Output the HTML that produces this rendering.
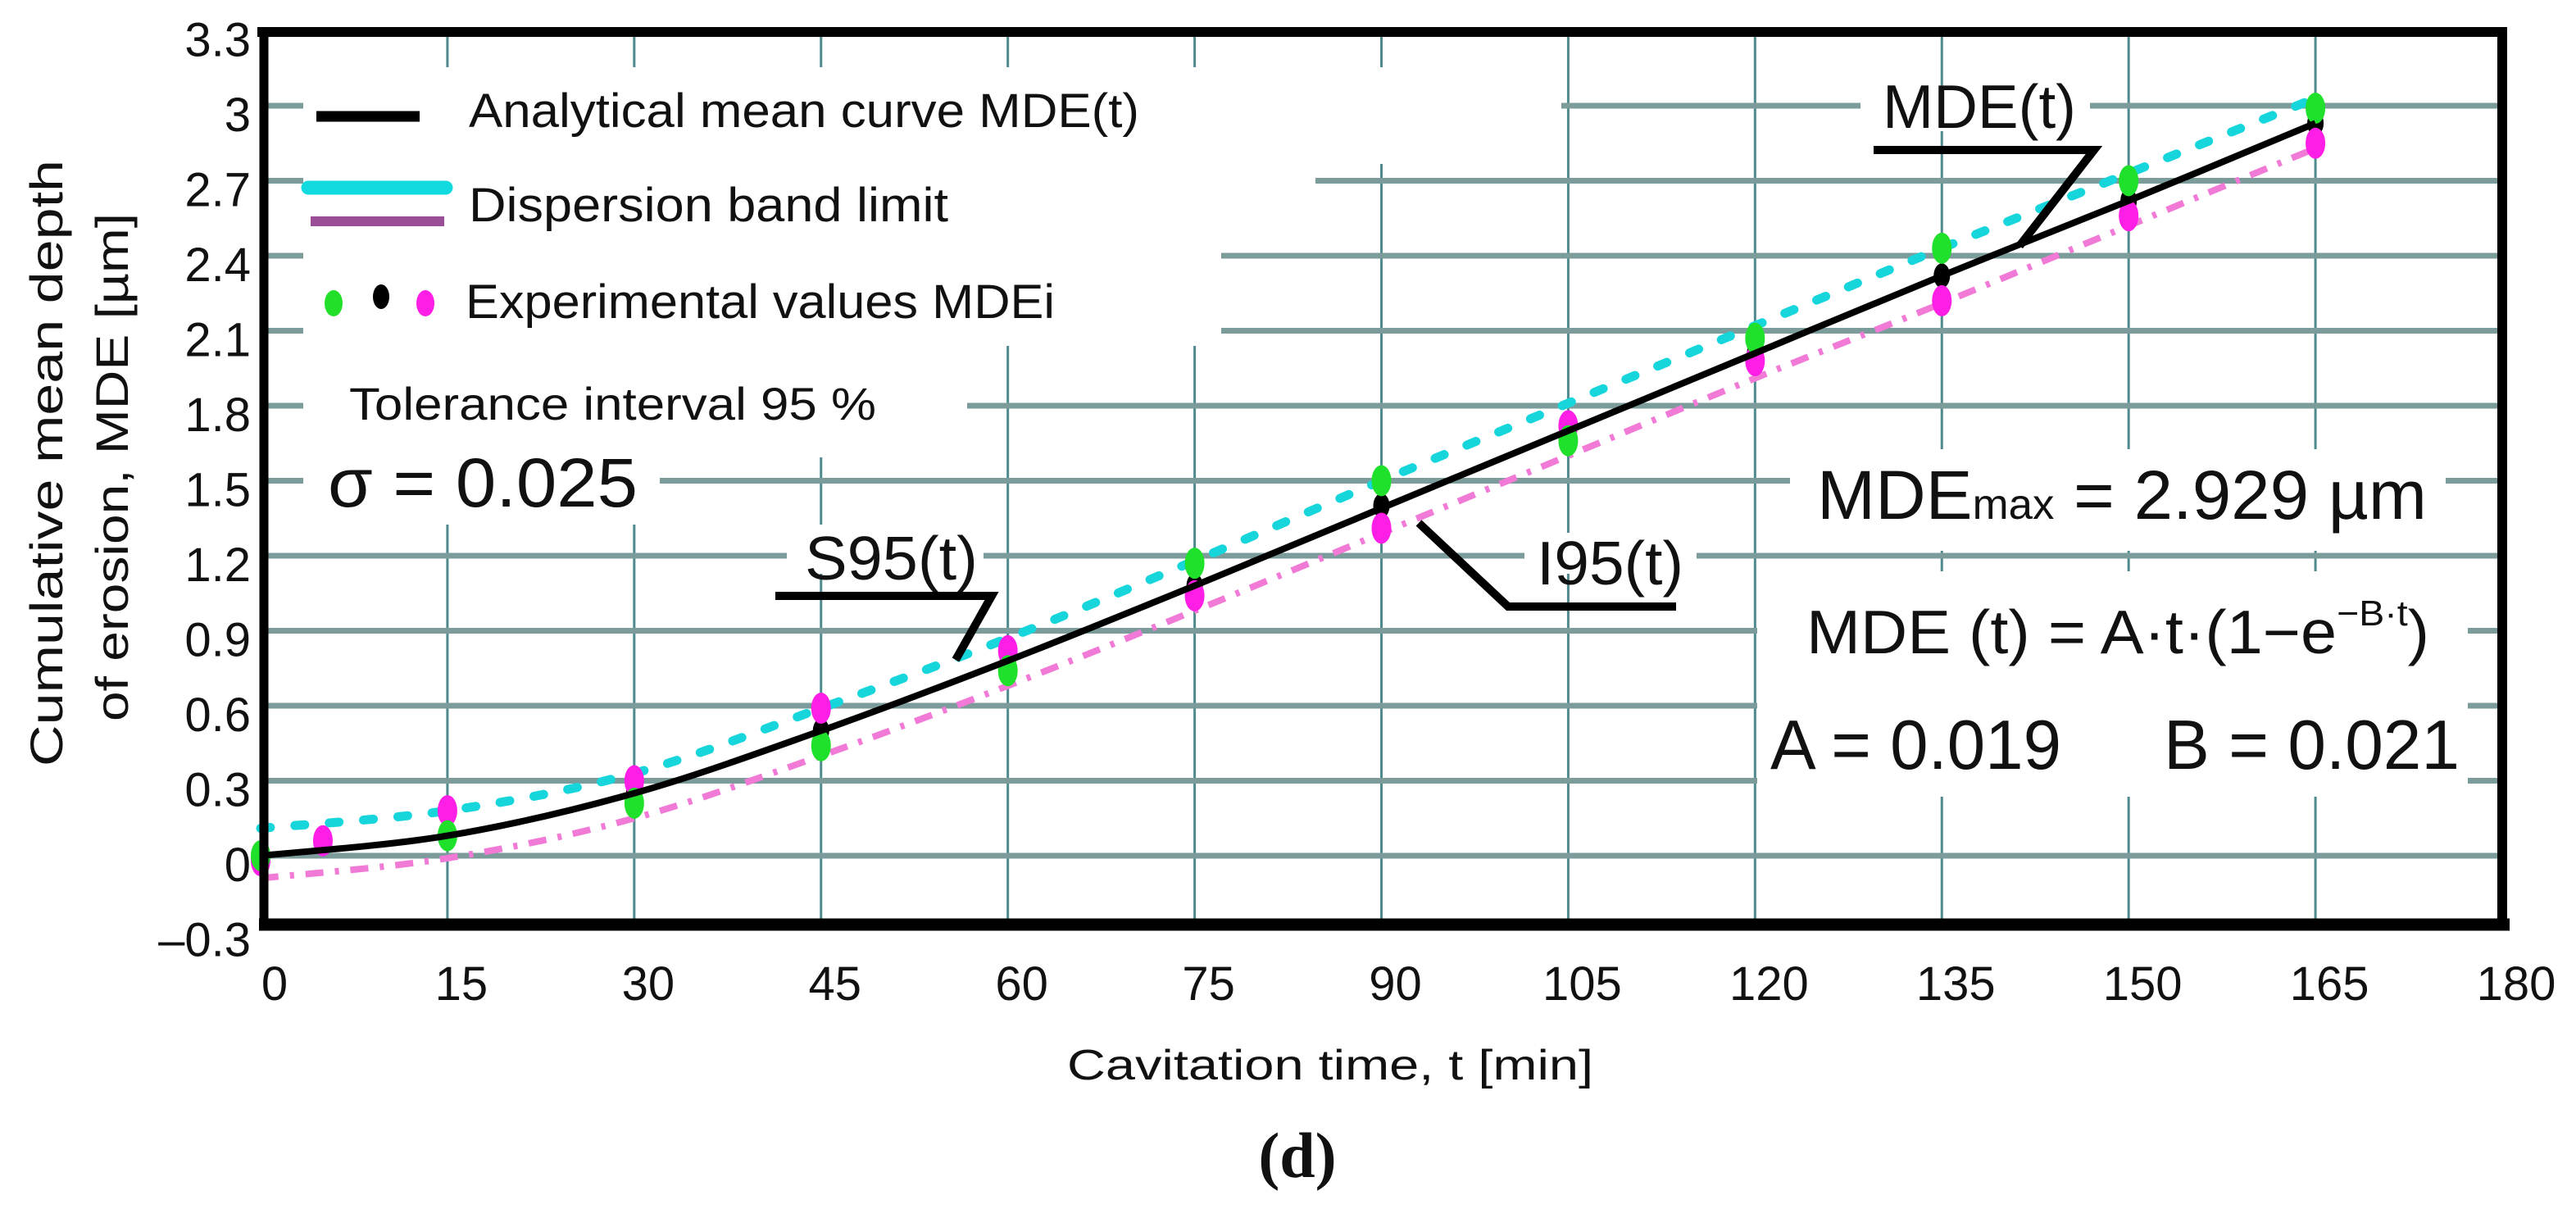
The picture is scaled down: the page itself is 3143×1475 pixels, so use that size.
<!DOCTYPE html>
<html><head><meta charset="utf-8"><style>
html,body{margin:0;padding:0;background:#fff;}
svg{display:block;}
text{font-family:"Liberation Sans",sans-serif;fill:#111;}
</style></head>
<body>
<svg id="chart" width="3143" height="1475" viewBox="0 0 3143 1475" xmlns="http://www.w3.org/2000/svg">
<rect x="0" y="0" width="3143" height="1475" fill="#fff"/>
<g id="grid"></g>
<g id="masks"></g>
<g id="series"></g>
<g id="frame"></g>
<g id="ticks"></g>

<g>
  <line x1="386" y1="142" x2="512" y2="142" stroke="#000" stroke-width="13"/>
  <text x="572" y="155" font-size="58" textLength="818" lengthAdjust="spacingAndGlyphs">Analytical mean curve MDE(t)</text>
  <line x1="376" y1="229" x2="544" y2="229" stroke="#12dbe0" stroke-width="17" stroke-linecap="round"/>
  <line x1="379" y1="270" x2="542" y2="270" stroke="#9a4e98" stroke-width="12"/>
  <text x="572" y="270" font-size="58" textLength="585" lengthAdjust="spacingAndGlyphs">Dispersion band limit</text>
  <ellipse cx="407" cy="370" rx="11" ry="16" fill="#22e02a"/>
  <ellipse cx="465" cy="362" rx="10" ry="15" fill="#000"/>
  <ellipse cx="519" cy="370" rx="11" ry="16" fill="#ff1ee6"/>
  <text x="568" y="388" font-size="58" textLength="719" lengthAdjust="spacingAndGlyphs">Experimental values MDEi</text>
  <text x="426" y="512" font-size="56" textLength="643" lengthAdjust="spacingAndGlyphs">Tolerance interval 95 %</text>
  <text x="400" y="618" font-size="84" textLength="378" lengthAdjust="spacingAndGlyphs">σ = 0.025</text>
</g>

<g>
  <text x="2297" y="156" font-size="75" textLength="236" lengthAdjust="spacingAndGlyphs">MDE(t)</text>
  <polyline points="2286,183 2555,183 2464,300" fill="none" stroke="#000" stroke-width="10"/>
  <text x="982" y="707" font-size="75" textLength="211" lengthAdjust="spacingAndGlyphs">S95(t)</text>
  <polyline points="946,727 1210,727 1166,805" fill="none" stroke="#000" stroke-width="10"/>
  <text x="1875" y="713" font-size="75" textLength="179" lengthAdjust="spacingAndGlyphs">I95(t)</text>
  <polyline points="1731,638 1840,740 2045,740" fill="none" stroke="#000" stroke-width="10"/>
  <text x="2217" y="633" font-size="84" textLength="744" lengthAdjust="spacingAndGlyphs">MDE<tspan font-size="52">max</tspan> = 2.929 µm</text>
  <text x="2204" y="797" font-size="75" textLength="760" lengthAdjust="spacingAndGlyphs">MDE (t) = A·t·(1−e<tspan font-size="44" dy="-34">−B·t</tspan><tspan dy="34">)</tspan></text>
  <text x="2160" y="938" font-size="85" textLength="355" lengthAdjust="spacingAndGlyphs">A = 0.019</text>
  <text x="2640" y="938" font-size="85" textLength="361" lengthAdjust="spacingAndGlyphs">B = 0.021</text>
</g>

<text x="1623" y="1317" font-size="52" text-anchor="middle" textLength="642" lengthAdjust="spacingAndGlyphs">Cavitation time, t [min]</text>
<text transform="translate(76,565) rotate(-90)" font-size="56" text-anchor="middle" textLength="740" lengthAdjust="spacingAndGlyphs">Cumulative mean depth</text>
<text transform="translate(156,570) rotate(-90)" font-size="56" text-anchor="middle" textLength="620" lengthAdjust="spacingAndGlyphs">of erosion, MDE [µm]</text>
<text x="1583" y="1436" font-size="78" font-weight="bold" text-anchor="middle" style="font-family:'Liberation Serif',serif">(d)</text>
</svg>
<script>
const xTicks = [0,15,30,45,60,75,90,105,120,135,150,165,180];
const yTicks = [-0.3,0,0.3,0.6,0.9,1.2,1.5,1.8,2.1,2.4,2.7,3.0,3.3];
const yTickLabels = ["–0.3","0","0.3","0.6","0.9","1.2","1.5","1.8","2.1","2.4","2.7","3","3.3"];
const curveT = [0,15,30,45,60,75,90,105,120,135,150,165];
const meanCurve = [0.00,0.08,0.25,0.50,0.78,1.08,1.39,1.70,2.01,2.32,2.62,2.93];
const upperBand = [0.11,0.18,0.33,0.59,0.87,1.18,1.50,1.81,2.12,2.43,2.73,3.03];
const lowerBand = [-0.09,-0.01,0.15,0.40,0.68,0.98,1.29,1.60,1.91,2.21,2.52,2.83];
const greenT = [0,15,30,45,60,75,90,105,120,135,150,165];
const greenVals = [0.00,0.08,0.21,0.44,0.74,1.17,1.50,1.66,2.07,2.43,2.70,2.99];
const blackT = [0,15,30,45,60,75,90,105,120,135,150,165];
const blackVals = [0.00,0.08,0.25,0.50,0.78,1.08,1.40,1.70,2.01,2.32,2.62,2.93];
const magentaT = [0,5,15,30,45,60,75,90,105,120,135,150,165];
const magentaVals = [-0.02,0.06,0.18,0.30,0.59,0.82,1.04,1.31,1.72,1.98,2.22,2.56,2.85];

const X0=318, X1=3053, T0=0, T1=180;
const Y0=1044, PXU=305;
const sx = t => X0 + (t-T0)*(X1-X0)/(T1-T0);
const sy = v => Y0 - v*PXU;
const NS="http://www.w3.org/2000/svg";
function mk(tag, attrs, parent){const e=document.createElementNS(NS,tag);for(const k in attrs)e.setAttribute(k,attrs[k]);parent.appendChild(e);return e;}

const grid=document.getElementById('grid');
xTicks.forEach((t)=>{ if(t===0||t===180) return;
  const l=mk('line',{x1:sx(t),x2:sx(t),y1:sy(3.3),y2:sy(-0.3),stroke:'#4f8a8e','stroke-width':3},grid);
  
  
});
yTicks.forEach((v,i)=>{ if(i===0||i===yTicks.length-1) return;
  const l=mk('line',{x1:X0,x2:X1,y1:sy(v),y2:sy(v),stroke:'#7c9c9c','stroke-width':7},grid);
  
  
});

const masks=document.getElementById('masks');
[[370,82,1905,200],[370,82,1605,242],[370,82,1490,422],[370,82,1180,522],[370,82,805,640],[805,82,1180,558],
 [2270,110,2550,160],[2184,548,2984,672],[2144,697,3011,972],[1860,650,2070,700],[960,640,1200,700]].forEach(r=>{
  const m=mk('rect',{x:r[0],y:r[1],width:r[2]-r[0],height:r[3]-r[1],fill:'#fff'},masks);
  
  
});

const ser=document.getElementById('series');
function smoothPath(ts,vs){
  const p=ts.map((t,i)=>[sx(t),sy(vs[i])]);
  let d='M'+p[0][0].toFixed(1)+','+p[0][1].toFixed(1);
  for(let i=0;i<p.length-1;i++){
    const a=p[i-1]||p[i], b=p[i], c=p[i+1], e=p[i+2]||c;
    const c1=[b[0]+(c[0]-a[0])/6, b[1]+(c[1]-a[1])/6];
    const c2=[c[0]-(e[0]-b[0])/6, c[1]-(e[1]-b[1])/6];
    d+=' C'+c1[0].toFixed(1)+','+c1[1].toFixed(1)+' '+c2[0].toFixed(1)+','+c2[1].toFixed(1)+' '+c[0].toFixed(1)+','+c[1].toFixed(1);
  }
  return d;
}
const up=mk('path',{d:smoothPath(curveT,upperBand),fill:'none',stroke:'#16d6dc','stroke-width':11,'stroke-linecap':'round','stroke-dasharray':'12 30'},ser);


const lo=mk('path',{d:smoothPath(curveT,lowerBand),fill:'none',stroke:'#f07ad6','stroke-width':8,'stroke-dasharray':'22 14 5 14'},ser);


function dots(ts,vs,color,name,rx,ry){ts.forEach((t,i)=>{
  const d=mk('ellipse',{cx:sx(t),cy:sy(vs[i]),rx:rx,ry:ry,fill:color},ser);
  
  
});}
dots(blackT,blackVals,'#000','black-point',10,15);
dots(magentaT,magentaVals,'#ff1ee6','magenta-point',12,19);
dots(greenT,greenVals,'#1fe02a','green-point',12,19);
const mean=mk('path',{d:smoothPath(curveT,meanCurve),fill:'none',stroke:'#000','stroke-width':8,'stroke-linejoin':'round'},ser);



const fr=document.getElementById('frame');
[[X0-4,39,X1+6,39,12],[322,33,322,1135,11],[3053,33,3053,1135,12],[316,1128,3062,1128,15]].forEach(f=>{
  const l=mk('line',{x1:f[0],y1:f[1],x2:f[2],y2:f[3],stroke:'#000','stroke-width':f[4]},fr);
  
  
});

const tk=document.getElementById('ticks');
xTicks.forEach(t=>{
  const e=mk('text',{x:sx(t)+17,y:1220,'font-size':58,'text-anchor':'middle'},tk);
  e.textContent=String(t);
  
  
});
yTicks.forEach((v,i)=>{
  const e=mk('text',{x:306,y:sy(v)+31,'font-size':58,'text-anchor':'end'},tk);
  e.textContent=yTickLabels[i];
  
  
});
</script>
</body></html>
